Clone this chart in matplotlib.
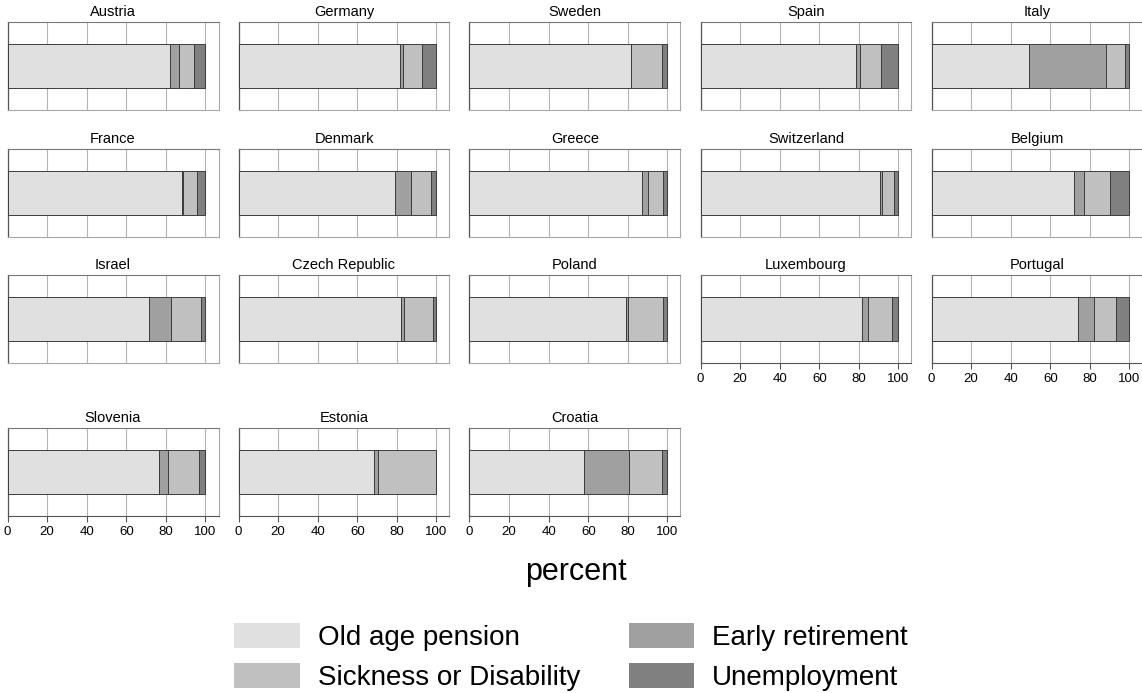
import matplotlib
matplotlib.use("Agg")
import matplotlib.pyplot as plt
from matplotlib.patches import Patch

plt.rcParams['font.family'] = ['Liberation Sans', 'DejaVu Sans']

countries = ["Austria", "Germany", "Sweden", "Spain", "Italy",
             "France", "Denmark", "Greece", "Switzerland", "Belgium",
             "Israel", "Czech Republic", "Poland", "Luxembourg", "Portugal",
             "Slovenia", "Estonia", "Croatia"]
old_age = [82.0, 81.5, 81.8, 78.5, 49.5, 88.0, 79.0, 87.3, 90.8, 72.0,
           71.3, 82.3, 79.0, 81.6, 73.8, 76.7, 68.3, 57.6]
early_ret = [4.7, 1.5, 0.0, 2.3, 38.8, 0.5, 8.4, 3.1, 1.0, 4.8,
             11.3, 1.2, 1.0, 2.9, 8.2, 4.5, 2.0, 23.1]
sickness = [7.6, 9.5, 15.5, 10.3, 9.7, 7.0, 9.9, 7.2, 6.0, 13.4,
            15.4, 14.8, 18.0, 12.2, 11.4, 15.5, 29.3, 16.4]
unemployment = [5.7, 7.5, 2.7, 8.9, 2.0, 4.5, 2.7, 2.4, 2.2, 9.8,
                2.0, 1.7, 2.0, 3.3, 6.6, 3.3, 0.4, 2.9]
xticks = [0, 20, 40, 60, 80, 100]

series = [("Old age pension", old_age, "#e0e0e0"),
          ("Early retirement", early_ret, "#a0a0a0"),
          ("Sickness or Disability", sickness, "#c0c0c0"),
          ("Unemployment", unemployment, "#808080")]

W, H = 1142, 693
fig = plt.figure(figsize=(W / 100, H / 100), dpi=100)

col_left = [7.5 + 231 * i for i in range(5)]
row_top = [22, 149, 275, 428]
pw, ph = 211, 88
labelled = {13, 14, 15, 16, 17}

for i, c in enumerate(countries):
    r, k = divmod(i, 5)
    l = col_left[k]
    t = row_top[r]
    ax = fig.add_axes([l / W, 1 - (t + ph) / H, pw / W, ph / H])
    left = 0.0
    for name, vals, col in series:
        ax.barh(0, vals[i], left=left, height=1.0, color=col,
                edgecolor="#3c3c3c", linewidth=0.7, zorder=3)
        left += vals[i]
    ax.set_xlim(0, 106.6)
    ax.set_ylim(-1, 1)
    ax.set_yticks([])
    ax.set_xticks(xticks)
    ax.grid(axis="x", color="#b4b4b4", linewidth=0.8, zorder=0)
    ax.set_title(c, fontsize=10.5, pad=4)
    for s in ["top", "right", "bottom"]:
        ax.spines[s].set_color("#a8a8a8")
        ax.spines[s].set_linewidth(0.8)
    ax.spines["top"].set_color("#777777")
    ax.spines["left"].set_color("#555555")
    ax.spines["left"].set_linewidth(0.9)
    if i in labelled:
        ax.spines["bottom"].set_color("#555555")
        ax.tick_params(axis="x", length=4, width=0.8, color="#555555",
                       labelsize=9.5, pad=3)
    else:
        ax.tick_params(axis="x", length=0, labelbottom=False)

fig.text(576 / W, 1 - 572 / H, "percent", ha="center", va="center", fontsize=22)

handles = [Patch(facecolor=series[0][2], edgecolor="none"),
           Patch(facecolor=series[2][2], edgecolor="none"),
           Patch(facecolor=series[1][2], edgecolor="none"),
           Patch(facecolor=series[3][2], edgecolor="none")]
labels = [series[0][0], series[2][0], series[1][0], series[3][0]]
fig.legend(handles, labels, ncol=2, loc="center",
           bbox_to_anchor=(571 / W, 1 - 657 / H), frameon=False,
           fontsize=20, handlelength=2.35, handleheight=1.0,
           handletextpad=0.65, columnspacing=1.76, labelspacing=0.45,
           borderpad=0)

fig.savefig("out.png", dpi=100)
